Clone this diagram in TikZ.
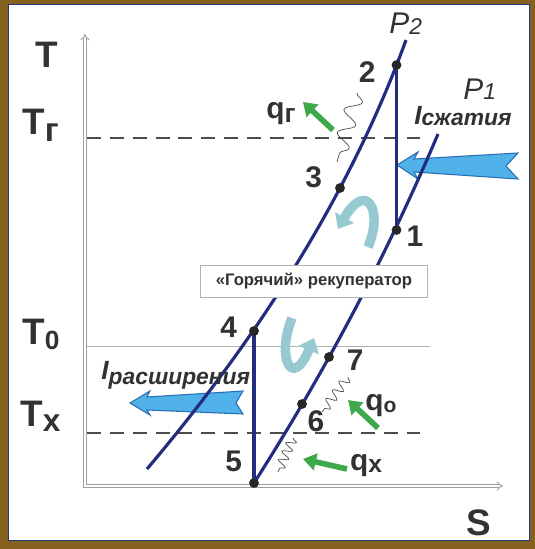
\documentclass[tikz,border=0pt]{standalone}
\usepackage{fontspec}
\setmainfont{Liberation Sans}
\usetikzlibrary{arrows.meta, positioning, decorations.pathmorphing}
\definecolor{framebrown}{RGB}{133,96,30}
\definecolor{framenavy}{RGB}{30,60,120}
\definecolor{isonavy}{RGB}{35,45,125}
\definecolor{workblue}{RGB}{80,178,232}
\definecolor{workedge}{RGB}{40,110,180}
\definecolor{heatgreen}{RGB}{62,168,75}
\definecolor{curlteal}{RGB}{150,202,208}
\definecolor{labelgray}{RGB}{50,50,50}
\newcommand\lowsub[3]{\raisebox{-#1}{\fontsize{#2}{#2}\selectfont #3}}
\tikzset{
    taxis/.style = {draw=gray!75, double=white, double distance=1.3pt, line width=0.5pt,
                    {Implies}-{Implies}},
    isobar/.style = {line width=1.8pt, draw=isonavy},
    tline/.style = {draw=black!70, line width=0.9pt, dash pattern=on 8pt off 5pt},
    dot/.style = {circle, fill=black!85, inner sep=0pt, minimum size=5.6pt},
    num/.style = {inner sep=0pt, text=labelgray, font=\fontsize{17}{17}\selectfont\bfseries},
    templabel/.style = {inner sep=0pt, text=labelgray, font=\fontsize{21}{21}\selectfont\bfseries},
    plabel/.style = {inner sep=0pt, text=labelgray, font=\fontsize{17}{17}\selectfont\itshape},
    worklabel/.style = {inner sep=0pt, text=labelgray, font=\fontsize{15}{15}\selectfont\bfseries\itshape},
    qlabel/.style = {inner sep=0pt, text=labelgray, font=\fontsize{17}{17}\selectfont\bfseries},
    recupbox/.style = {rectangle, draw=gray!60, fill=white, minimum width=129pt, minimum height=18.5pt,
                       text=labelgray, font=\fontsize{9.5}{9.5}\selectfont\bfseries},
    workarrow/.style = {fill=workblue, draw=workedge, line width=0.6pt},
    heat/.style = {line width=3.2pt, draw=heatgreen, -{Triangle[length=7.4pt, width=9.5pt]}},
    heatwave/.style 2 args = {decorate, decoration={snake, amplitude=#1, segment length=#2},
                              draw=black!70, line width=0.4pt},
    curl/.style = {line width=5.4pt, draw=curlteal, -{Triangle[length=7.5pt, width=12pt]}},
}

\begin{document}
\begin{tikzpicture}[x=0.02cm, y=-0.02cm]
\useasboundingbox (0,0) rectangle (535,549);
% frame
\fill[framebrown] (0,0) rectangle (535,549);
\filldraw[fill=white, draw=framenavy, line width=1.1pt] (8.5,4.5) rectangle (529.5,540.5);

% axes and levels
\coordinate (O) at (85,486);
\coordinate (Tend) at (85,34);
\coordinate (Send) at (503,486);
\draw[tline] (87,138) -- (420,138);
\draw[draw=gray!60, line width=0.5pt] (87,346) -- (430,346);
\draw[tline] (87,433) -- (420,433);
\draw[taxis] (Tend) -- (O) -- (Send);

\node[templabel, anchor=base west] (Tlab) at (35,67) {T};
\node[templabel, anchor=base west] (Tglab) at (22,134) {T\lowsub{4pt}{19}{г}};
\node[templabel, anchor=base west] (T0lab) at (22,344) {T\lowsub{3pt}{15}{0}};
\node[templabel, anchor=base west] (Txlab) at (20,426) {T\lowsub{3pt}{18}{х}};
\node[templabel, anchor=base west] (Slab) at (466,535) {S};

% work arrows
\filldraw[workarrow] (397,165) -- (418,152) -- (414,159) -- (518,153) -- (506,166)
    -- (518,179) -- (414,172) -- (418,179) -- cycle;
\filldraw[workarrow] (130,403) -- (150,391) -- (147,397) -- (243,391) -- (236,403)
    -- (243,414) -- (147,410) -- (150,415) -- cycle;

% state points
\coordinate (p2) at (396.5,65);
\coordinate (p3) at (340,188);
\coordinate (p1) at (396.5,230);
\coordinate (p4) at (254,331);
\coordinate (p7) at (329,357);
\coordinate (p6) at (302,404);
\coordinate (p5) at (254,483);
\coordinate (P2top) at (406,40);
\coordinate (P2bot) at (147,469);
\coordinate (P1top) at (438,134);

% isobars
\draw[isobar] (P2top) .. controls (354,183) and (268,326) .. (P2bot);
\draw[isobar] (P1top) .. controls (389,250) and (328,367) .. (p5);
\draw[isobar] (p2) -- (p1);
\draw[isobar] (p4) -- (p5);

\foreach \i in {1,...,7}
    \node[dot] (dot\i) at (p\i) {};

\node[num, left=8.8pt of dot2, yshift=-4pt] (n2) {2};
\node[num, left=7pt of dot3, yshift=6pt] (n3) {3};
\node[num, right=2.5pt of dot1, yshift=-3.4pt] (n1) {1};
\node[num, left=6.5pt of dot4, yshift=2.3pt] (n4) {4};
\node[num, right=7pt of dot7, yshift=-1.7pt] (n7) {7};
\node[num, right=0pt of dot6, yshift=-9.6pt] (n6) {6};
\node[num, left=3.7pt of dot5, yshift=12.5pt] (n5) {5};

\node[plabel, anchor=base west] (P2lab) at (389,33) {P\lowsub{1pt}{13}{2}};
\node[plabel, anchor=base west] (P1lab) at (463,99) {P\lowsub{0.5pt}{13}{1}};
\node[worklabel, anchor=base west] (Icomp) at (414,124) {I\lowsub{1pt}{13}{сжатия}};
\node[worklabel, anchor=base west] (Iexp) at (101,379) {I\lowsub{3pt}{13}{расширения}};

% recuperator
\node[recupbox] (recup) at (314,281.5) {«Горячий» рекуператор};
\draw[curl] (368,247) .. controls (384,210) and (366,180) .. (338,229);
\draw[curl] (292,318) .. controls (276,358) and (292,390) .. (314,338);

% heat flows
\draw[heatwave={4.5pt}{13.6pt}] (357,93) -- (337,162);
\draw[heatwave={2.8pt}{6.2pt}] (348,377) -- (322,412);
\draw[heatwave={2.8pt}{5.2pt}] (293,438) -- (278,472);
\draw[heat] (333,130) -- (303,102);
\draw[heat] (378,428) -- (348,400);
\draw[heat] (347,469) -- (303,459);
\node[qlabel] (qg) at (281,114) {q\lowsub{2pt}{15}{г}};
\node[qlabel] (qo) at (381,406) {q\lowsub{1pt}{12}{о}};
\node[qlabel] (qx) at (366,466) {q\lowsub{1pt}{14}{х}};
\end{tikzpicture}
\end{document}
